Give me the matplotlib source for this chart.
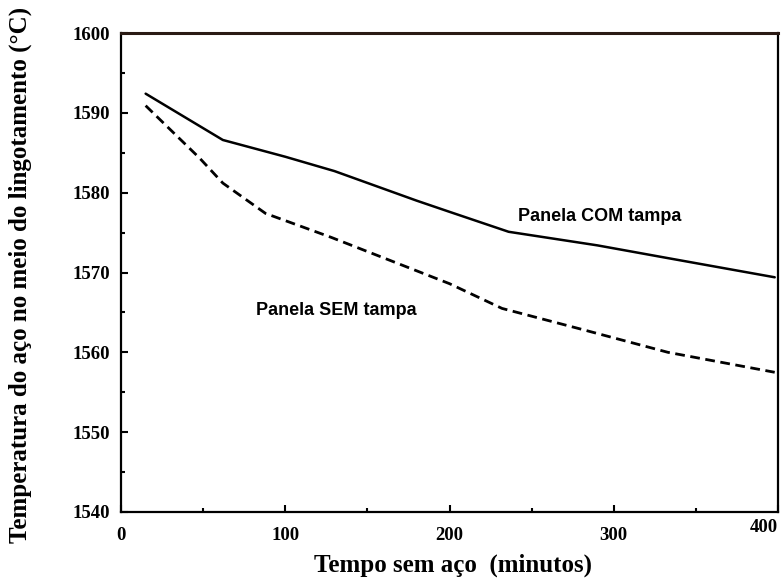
import matplotlib
matplotlib.use("Agg")
import matplotlib.pyplot as plt
from matplotlib.ticker import MultipleLocator

# Data
com_x = [15, 62, 100, 130, 180, 200, 236, 290, 333, 398]
com_y = [1592.4, 1586.6, 1584.5, 1582.7, 1579.0, 1577.6, 1575.1, 1573.4, 1571.8, 1569.4]
sem_x = [15, 48, 62, 88, 100, 128, 200, 232, 282, 333, 398]
sem_y = [1590.9, 1584.3, 1581.2, 1577.4, 1576.5, 1574.4, 1568.6, 1565.5, 1562.8, 1560.0, 1557.5]
x_ticks = [0, 100, 200, 300, 400]
y_ticks = [1540, 1550, 1560, 1570, 1580, 1590, 1600]

fig = plt.figure(figsize=(7.84, 5.81), dpi=100)
ax = fig.add_axes([121/784, 1-512/581, (778-121)/784, (512-33)/581])

ax.plot(com_x, com_y, color="black", lw=1.8, solid_capstyle="round")
ax.plot(sem_x, sem_y, color="black", lw=2.0, linestyle=(0, (3.5, 2)))

ax.set_xlim(0, 398)
ax.set_ylim(1540, 1600)
ax.set_xticks(x_ticks)
ax.set_yticks(y_ticks)
ax.xaxis.set_minor_locator(MultipleLocator(50))
ax.yaxis.set_minor_locator(MultipleLocator(5))
ax.tick_params(which="both", direction="in", width=1.5, colors="black")
ax.tick_params(which="major", length=5)
ax.tick_params(which="minor", length=3)
ax.tick_params(axis="x", pad=11)
ax.tick_params(axis="y", pad=8)
for lab in ax.get_xticklabels() + ax.get_yticklabels():
    lab.set_fontfamily("Liberation Serif")
    lab.set_fontweight("bold")
    lab.set_fontsize(13.5)
xl = ax.get_xticklabels()
xl[-1].set_horizontalalignment("right")
xl[-1].set_y(0.017)

for s in ax.spines.values():
    s.set_linewidth(1.6)
    s.set_color("black")
ax.spines["top"].set_color("#2a1a14")
ax.spines["top"].set_linewidth(2.2)

ax.text(242, 1577.0, "Panela COM tampa", family="Liberation Sans", weight="bold",
        fontsize=13, ha="left", va="center")
ax.text(82, 1565.2, "Panela SEM tampa", family="Liberation Sans", weight="bold",
        fontsize=13, ha="left", va="center")

fig.text(453/784, 1-565/581, "Tempo sem aço  (minutos)", family="Liberation Serif",
         weight="bold", fontsize=18, ha="center", va="center")
fig.text(20/784, 1-275/581, "Temperatura do aço no meio do lingotamento (°C)",
         family="Liberation Serif", weight="bold", fontsize=18, rotation=90,
         ha="center", va="center")

fig.savefig("out.png", dpi=100)
